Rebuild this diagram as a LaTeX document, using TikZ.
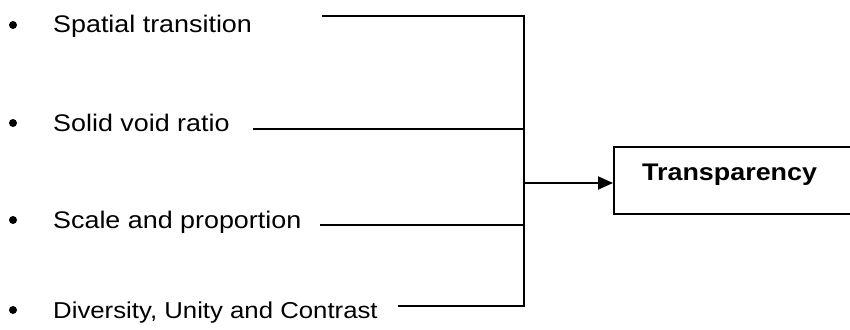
\documentclass[tikz,border=0pt]{standalone}
\usepackage{fontspec}
\setmainfont{Liberation Sans}[FakeStretch=1.12]
\usetikzlibrary{arrows.meta}
\begin{document}
\begin{tikzpicture}[x=1pt,y=-1pt,
  item/.style={anchor=base west,inner sep=0pt,font=\fontsize{24}{26}\selectfont},
  dot/.style={circle,fill=black,inner sep=0pt,minimum size=8pt},
  wire/.style={line width=2pt},
  outbox/.style={draw,line width=2pt,anchor=north west,minimum width=260pt,minimum height=67pt,inner sep=0pt}]
\useasboundingbox (0,0) rectangle (850,329);
\node[dot] (b1) at (13,25) {};
\node[dot] (b2) at (13,123) {};
\node[dot] (b3) at (13,220) {};
\node[dot] (b4) at (13,310) {};
\node[item] (t1) at (53,33) {Spatial transition};
\node[item] (t2) at (53,131) {Solid void ratio};
\node[item] (t3) at (53,228) {Scale and proportion};
\node[item,font=\fontsize{23}{26}\selectfont] (t4) at (53,318) {Diversity, Unity and Contrast};
\coordinate (s1) at (322,16);
\coordinate (s2) at (253,129);
\coordinate (s3) at (320,225);
\coordinate (s4) at (398,306);
\coordinate (e1) at (524,16);
\coordinate (e2) at (524,129);
\coordinate (e3) at (524,225);
\coordinate (e4) at (524,306);
\coordinate (j) at (524,183);
\node[outbox] (T) at (613,146) {};
\node[anchor=base west,inner sep=0pt,font=\fontsize{24}{26}\selectfont\bfseries] (tl) at (642,180) {Transparency};
\draw[wire] (s1) -- (e1) -- (e4) -- (s4);
\draw[wire] (s2) -- (e2);
\draw[wire] (s3) -- (e3);
\draw[wire,-{Triangle[length=15pt,width=13pt]}] (j) -- (j -| T.west);
\end{tikzpicture}
\end{document}
